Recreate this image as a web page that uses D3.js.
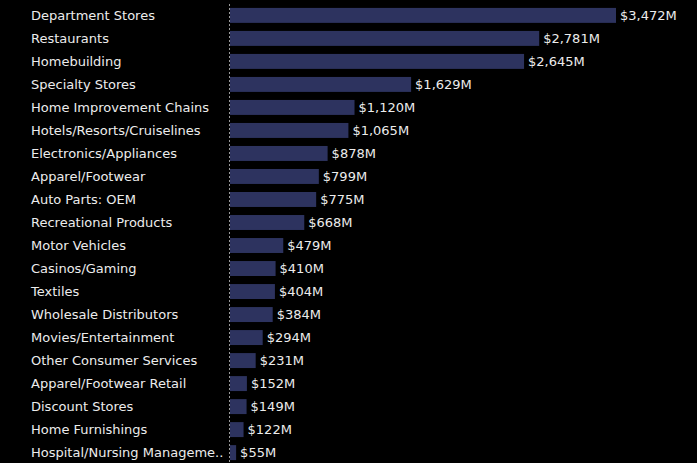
<!DOCTYPE html>
<html><head><meta charset="utf-8">
<script src="https://d3js.org/d3.v7.min.js"></script>
<style>html,body{margin:0;padding:0;background:#000;}svg{display:block;}</style>
</head><body>
<script>
const categories = ["Department Stores","Restaurants","Homebuilding","Specialty Stores","Home Improvement Chains","Hotels/Resorts/Cruiselines","Electronics/Appliances","Apparel/Footwear","Auto Parts: OEM","Recreational Products","Motor Vehicles","Casinos/Gaming","Textiles","Wholesale Distributors","Movies/Entertainment","Other Consumer Services","Apparel/Footwear Retail","Discount Stores","Home Furnishings","Hospital/Nursing Management"];
const values = [3472,2781,2645,1629,1120,1065,878,799,775,668,479,410,404,384,294,231,152,149,122,55];

const W = 697, H = 463;
const svg = d3.select("body").append("svg").attr("width", W).attr("height", H).style("background", "#000");
const x = d3.scaleLinear().domain([0, 3472]).range([230, 616]);
const y = d3.scaleBand().domain(categories).range([4, 464]).paddingInner(0.35).paddingOuter(0.17);

const fmt = v => "$" + d3.format(",")(v) + "M";
const font = "DejaVu Sans, Verdana, sans-serif";

svg.selectAll("rect.bar").data(values).enter().append("rect")
  .attr("x", x(0)).attr("y", (d,i) => y(categories[i]))
  .attr("width", d => x(d) - x(0)).attr("height", y.bandwidth())
  .attr("fill", "#2d335f");

svg.append("line").attr("x1", 229.5).attr("x2", 229.5).attr("y1", 4).attr("y2", H)
  .attr("stroke", "#9a9a9a").attr("stroke-width", 1).attr("stroke-dasharray", "2,2");

const lbl = svg.selectAll("text.cat").data(categories).enter().append("text")
  .attr("x", 31).attr("y", d => y(d) + y.bandwidth()/2).attr("dy", "0.35em")
  .attr("fill", "#ececec").attr("font-family", font).attr("font-size", 13)
  .text(d => d);
lbl.each(function(d){
  const el = d3.select(this);
  const maxW = 196;
  if (this.getComputedTextLength() > maxW) {
    let s = d;
    while (s.length > 1) { s = s.slice(0, -1); el.text(s + ".."); if (this.getComputedTextLength() <= maxW) break; }
  }
});

svg.selectAll("text.val").data(values).enter().append("text")
  .attr("x", d => x(d) + 4).attr("y", (d,i) => y(categories[i]) + y.bandwidth()/2).attr("dy", "0.35em")
  .attr("fill", "#ececec").attr("font-family", font).attr("font-size", 13)
  .text(fmt);
</script>
</body></html>
